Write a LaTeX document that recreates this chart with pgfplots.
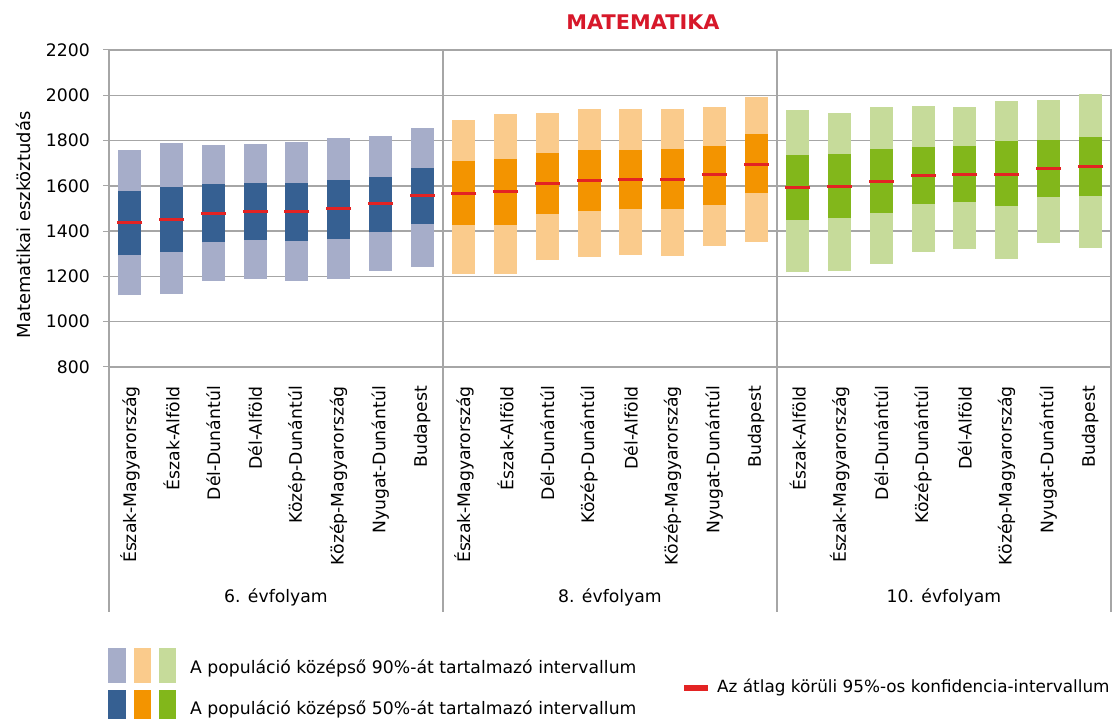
\documentclass[border=0pt]{standalone}
\usepackage{pgfplots}
\pgfplotsset{compat=1.18}
\usepackage{pgfplotstable}
\usepackage{fontspec}
\setmainfont{DejaVu Sans}
\usepackage{graphicx}

\definecolor{blueL}{HTML}{A6ADC9}
\definecolor{blueD}{HTML}{366092}
\definecolor{orangeL}{HTML}{FACB8C}
\definecolor{orangeD}{HTML}{F39400}
\definecolor{greenL}{HTML}{C6DB9A}
\definecolor{greenD}{HTML}{82B71B}
\definecolor{meanred}{HTML}{E32323}
\definecolor{titlered}{HTML}{D7182A}
\definecolor{gridgray}{HTML}{A6A6A6}

\pgfplotstableread{
x lo90 lo50 mean hi50 hi90
0 1116 1293 1437 1576 1757
1 1122 1309 1453 1594 1788
2 1181 1350 1479 1609 1779
3 1190 1362 1487 1613 1785
4 1182 1357 1487 1613 1794
5 1188 1365 1498 1626 1810
6 1225 1394 1521 1640 1822
7 1241 1432 1557 1679 1857
}\gA
\pgfplotstableread{
x lo90 lo50 mean hi50 hi90
8 1212 1428 1568 1710 1891
9 1212 1428 1575 1719 1918
10 1271 1476 1610 1746 1922
11 1287 1490 1625 1759 1940
12 1296 1498 1626 1759 1940
13 1291 1498 1629 1763 1940
14 1335 1516 1648 1776 1948
15 1353 1569 1696 1829 1993
}\gB
\pgfplotstableread{
x lo90 lo50 mean hi50 hi90
16 1218 1450 1593 1737 1935
17 1222 1459 1597 1741 1922
18 1257 1481 1621 1763 1948
19 1310 1521 1644 1772 1953
20 1322 1529 1651 1776 1948
21 1278 1512 1651 1798 1975
22 1348 1551 1678 1803 1979
23 1326 1556 1684 1816 2006
}\gC

\newcommand{\lbl}{\fontsize{17.3}{18}\selectfont}

\begin{document}
\begin{tikzpicture}
\useasboundingbox (0,0) rectangle (1119bp,719bp);
\begin{axis}[
  at={(109bp,352bp)}, anchor=south west,
  width=1002bp, height=317bp, scale only axis,
  xmin=-0.5, xmax=23.5, ymin=800, ymax=2200,
  ytick={800,1000,...,2200},
  xtick={0,...,23},
  xticklabels={Észak-Magyarország,Észak-Alföld,Dél-Dunántúl,Dél-Alföld,Közép-Dunántúl,Közép-Magyarország,Nyugat-Dunántúl,Budapest,
    Észak-Magyarország,Észak-Alföld,Dél-Dunántúl,Közép-Dunántúl,Dél-Alföld,Közép-Magyarország,Nyugat-Dunántúl,Budapest,
    Észak-Alföld,Észak-Magyarország,Dél-Dunántúl,Közép-Dunántúl,Dél-Alföld,Közép-Magyarország,Nyugat-Dunántúl,Budapest},
  ymajorgrids, grid style={draw=gridgray, line width=1.3bp},
  axis line style={draw=gridgray, line width=1.3bp},
  xtick style={draw=none},
  ytick style={draw=gridgray, line width=1bp},
  ytick pos=left, tick align=outside, major tick length=6bp,
  /pgf/number format/assume math mode=true,
  /pgf/number format/1000 sep={},
  yticklabel style={font=\lbl, anchor=east, inner sep=0pt, xshift=-13bp},
  xticklabel style={font=\lbl, rotate=90, anchor=east, inner sep=0pt},
  xticklabel shift=13bp,
  clip=false,
]
% 90% intervals
\addplot[draw=none, mark=none, forget plot, error bars/.cd, y dir=plus, y explicit, error mark=none,
  error bar style={line width=23bp, draw=blueL}]
  table[x=x, y=lo90, y error plus expr=\thisrow{hi90}-\thisrow{lo90}] {\gA};
\addplot[draw=none, mark=none, forget plot, error bars/.cd, y dir=plus, y explicit, error mark=none,
  error bar style={line width=23bp, draw=orangeL}]
  table[x=x, y=lo90, y error plus expr=\thisrow{hi90}-\thisrow{lo90}] {\gB};
\addplot[draw=none, mark=none, forget plot, error bars/.cd, y dir=plus, y explicit, error mark=none,
  error bar style={line width=23bp, draw=greenL}]
  table[x=x, y=lo90, y error plus expr=\thisrow{hi90}-\thisrow{lo90}] {\gC};
% 50% intervals
\addplot[draw=none, mark=none, forget plot, error bars/.cd, y dir=plus, y explicit, error mark=none,
  error bar style={line width=23bp, draw=blueD}]
  table[x=x, y=lo50, y error plus expr=\thisrow{hi50}-\thisrow{lo50}] {\gA};
\addplot[draw=none, mark=none, forget plot, error bars/.cd, y dir=plus, y explicit, error mark=none,
  error bar style={line width=23bp, draw=orangeD}]
  table[x=x, y=lo50, y error plus expr=\thisrow{hi50}-\thisrow{lo50}] {\gB};
\addplot[draw=none, mark=none, forget plot, error bars/.cd, y dir=plus, y explicit, error mark=none,
  error bar style={line width=23bp, draw=greenD}]
  table[x=x, y=lo50, y error plus expr=\thisrow{hi50}-\thisrow{lo50}] {\gC};
% means
\addplot[only marks, mark=-, mark size=12.5bp, mark options={line width=3bp, draw=meanred}, forget plot]
  table[x=x, y=mean] {\gA};
\addplot[only marks, mark=-, mark size=12.5bp, mark options={line width=3bp, draw=meanred}, forget plot]
  table[x=x, y=mean] {\gB};
\addplot[only marks, mark=-, mark size=12.5bp, mark options={line width=3bp, draw=meanred}, forget plot]
  table[x=x, y=mean] {\gC};
% separators
\draw[gridgray, line width=1.3bp] (axis cs:-0.5,2200) -- ([yshift=-245bp]axis cs:-0.5,800);
\draw[gridgray, line width=1.3bp] (axis cs:7.5,2200) -- ([yshift=-245bp]axis cs:7.5,800);
\draw[gridgray, line width=1.3bp] (axis cs:15.5,2200) -- ([yshift=-245bp]axis cs:15.5,800);
\draw[gridgray, line width=1.3bp] (axis cs:23.5,2200) -- ([yshift=-245bp]axis cs:23.5,800);
\node[font=\lbl] at ([yshift=-230bp]axis cs:3.5,800) {6. évfolyam};
\node[font=\lbl] at ([yshift=-230bp]axis cs:11.5,800) {8. évfolyam};
\node[font=\lbl] at ([yshift=-230bp]axis cs:19.5,800) {10. évfolyam};
\end{axis}
% y label
\node[font=\fontsize{18}{19}\selectfont, rotate=90] at (23bp,494bp) {Matematikai eszköztudás};
% title
\node[text=titlered, inner sep=0pt] at (643bp,697bp) {\resizebox{153bp}{14.7bp}{\bfseries MATEMATIKA}};
% legend
\fill[blueL] (108bp,36bp) rectangle (126bp,71bp);
\fill[orangeL] (134bp,36bp) rectangle (151bp,71bp);
\fill[greenL] (159bp,36bp) rectangle (176bp,71bp);
\fill[blueD] (108bp,0bp) rectangle (126bp,29bp);
\fill[orangeD] (134bp,0bp) rectangle (151bp,29bp);
\fill[greenD] (159bp,0bp) rectangle (176bp,29bp);
\node[font=\lbl, anchor=west, inner sep=0pt] at (190bp,51bp) {A populáció középső 90\%-át tartalmazó intervallum};
\node[font=\lbl, anchor=west, inner sep=0pt] at (190bp,10bp) {A populáció középső 50\%-át tartalmazó intervallum};
\fill[meanred] (684bp,28bp) rectangle (708bp,34bp);
\node[font=\fontsize{16.9}{18}\selectfont, anchor=west, inner sep=0pt] at (717bp,31bp) {Az átlag körüli 95\%-os konfidencia-intervallum};
\end{tikzpicture}
\end{document}
